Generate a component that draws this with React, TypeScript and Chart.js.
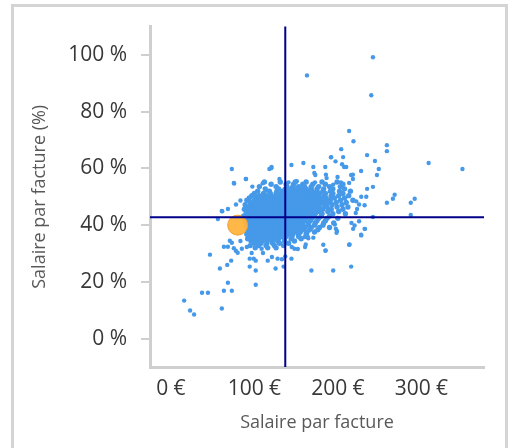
import { useEffect, useRef } from 'react';
import { Chart, registerables } from 'chart.js';

Chart.register(...registerables);

// Axis ticks
const xTicks = [0, 100, 200, 300];
const yTicks = [0, 20, 40, 60, 80, 100];

// Averages (reference lines)
const meanSalary = 137;
const meanShare = 42.8;

// Highlighted entity
const ownSalary = 80;
const ownShare = 40;

// Dense core of the cloud: one row per share level, salaries in each row
const coreRowY = [
  55.2, 54.4, 53.6, 52.8, 52.0, 51.2, 50.4, 49.6, 48.8, 48.0, 47.2, 46.4, 45.6, 44.8, 44.0,
  43.2, 42.4, 41.6, 40.8, 40.0, 39.2, 38.4, 37.6, 36.8, 36.0, 35.2, 34.4, 33.6, 32.8, 32.0,
];
const coreRowX: number[][] = [
  [112, 131, 149, 162, 181, 199],
  [120, 138, 147, 158, 170, 185, 206],
  [106, 126, 139, 146, 153, 160, 168, 177, 190, 203],
  [113, 129, 137, 144, 150, 156, 162, 168, 175, 183, 194, 208],
  [104, 118, 127, 134, 140, 146, 151, 157, 163, 169, 175, 182, 191, 202, 215],
  [100, 111, 119, 126, 132, 138, 143, 149, 154, 160, 166, 172, 178, 185, 194, 206],
  [97, 106, 114, 120, 126, 132, 137, 143, 148, 153, 159, 165, 171, 177, 184, 192, 201, 213],
  [94, 103, 110, 116, 122, 128, 134, 139, 145, 150, 156, 161, 167, 173, 179, 186, 196, 208],
  [91, 100, 107, 113, 119, 125, 131, 136, 142, 147, 152, 158, 164, 170, 176, 183, 191, 203, 218],
  [95, 103, 109, 115, 121, 127, 133, 139, 144, 149, 155, 161, 167, 173, 180, 188, 198, 210],
  [89, 98, 105, 111, 117, 123, 129, 135, 141, 146, 151, 157, 163, 169, 176, 184, 193, 205],
  [93, 100, 107, 113, 119, 125, 131, 137, 143, 148, 153, 159, 165, 171, 178, 187, 199, 212],
  [88, 96, 103, 109, 115, 121, 127, 133, 139, 144, 149, 155, 161, 167, 174, 182, 192, 206],
  [92, 99, 105, 111, 117, 123, 129, 135, 140, 145, 151, 157, 163, 170, 178, 188, 201],
  [90, 97, 103, 109, 115, 121, 127, 132, 138, 143, 148, 154, 160, 166, 173, 181, 194, 209],
  [87, 94, 100, 106, 112, 118, 124, 130, 135, 141, 146, 152, 158, 164, 171, 180, 190],
  [92, 98, 104, 110, 116, 122, 128, 133, 139, 144, 150, 156, 162, 169, 177, 187, 200],
  [89, 96, 102, 108, 114, 120, 126, 131, 137, 142, 148, 154, 160, 167, 175, 185],
  [93, 99, 105, 111, 117, 123, 129, 135, 140, 146, 152, 158, 165, 173, 183, 195],
  [91, 97, 103, 109, 115, 121, 127, 133, 138, 144, 150, 157, 164, 172, 182],
  [94, 100, 106, 112, 118, 124, 130, 136, 141, 147, 153, 160, 168, 178, 190],
  [92, 98, 104, 110, 116, 122, 128, 134, 139, 145, 151, 158, 166, 176],
  [95, 101, 107, 113, 119, 125, 131, 137, 142, 148, 155, 163, 172],
  [91, 98, 104, 110, 116, 122, 128, 134, 140, 146, 153, 162],
  [96, 102, 108, 114, 120, 126, 132, 138, 145, 153, 163],
  [92, 99, 105, 111, 117, 123, 129, 136, 144, 156],
  [96, 103, 109, 115, 121, 128, 136, 148],
  [100, 108, 115, 122, 130, 141],
  [95, 105, 114, 124, 135],
  [101, 116, 126],
];

// Scattered points around the core: [salary, share]
const scatterPoints: [number, number][] = [
  [242, 99.2], [163, 92.8], [240, 85.8], [213.5, 73.2], [218.7, 69.6], [258.7, 68.2], [258.7, 66.1],
  [204, 66.8], [235, 64.7], [192, 64], [206.3, 64], [244.4, 62.6], [308.7, 61.9], [349.2, 59.8],
  [205, 61.5], [207.5, 60.5], [210, 60.5], [249, 59.8], [227.8, 59.1], [246.8, 57.7], [215.9, 57.7],
  [218, 56.3], [213.5, 54.9], [242, 53.5], [235, 52.8], [268, 50.7], [265.9, 49.3], [258.7, 47.9],
  [292, 49.3], [287.3, 47.9], [287.3, 43.6], [242, 42.9], [232.5, 38.7], [227.8, 36.6], [213.5, 33.1],
  [215.9, 25.4], [194.4, 24], [168.3, 24], [185, 31], [182.5, 33.1], [158.7, 61.9], [144.4, 61.2],
  [170.6, 60.5], [184.9, 60.5], [173, 57.7], [120.6, 60.5], [118, 59.8], [73, 59.8], [89.7, 56.3],
  [75.4, 54.9], [130, 56.3], [56.3, 42.2], [61, 45], [46.8, 29.6], [58.7, 24.7], [68.3, 19.7],
  [63.5, 16.9], [73, 16.9], [37.3, 16.2], [44.4, 16.2], [15.9, 13.4], [23, 9.9], [27.8, 8.5],
  [61, 10.6], [101.6, 19], [101.6, 24], [94.4, 25.4], [125.4, 24.7], [135, 25.4], [144.4, 28.2],
  [137, 29], [127.8, 28.2], [116, 27.5], [94.4, 28.2], [99.2, 28.2], [101.6, 27.5], [67.5, 26],
  [72.2, 27.5], [63.5, 32.4], [68.3, 32.4], [70.6, 34.5], [73, 33.8], [77.8, 31], [80, 30.3],
  [85, 31.7], [108.7, 31.7], [90, 56.3], [75.8, 54.7], [61.5, 44.9], [68.3, 45.7], [78, 47.3],
  [83.3, 48.7], [97.6, 53.6], [110, 54.8], [96.8, 30.2], [110.3, 30.2], [121, 28.8], [133, 28],
  [185.4, 31.1], [161.5, 33.2], [160.7, 32.3], [144.8, 32.3], [148, 31.7], [152, 31.6], [198.4, 37.3],
  [191.7, 63.9], [197.2, 62.5], [171.8, 58.4], [185.7, 57.8], [218, 57.8], [186.5, 56.6],
  [199.6, 57], [140.9, 55.1], [150.8, 55.5], [172.6, 55.1], [194.4, 54.3], [203.6, 55.1],
  [120.2, 60.1], [228, 50], [234, 50], [232, 47], [222, 48.4], [225.4, 47.3], [223, 45.7],
  [221.4, 44.3], [225.4, 41.4], [216.3, 40.8], [220, 39.9], [218.3, 38.7], [232, 38.7], [228, 36.4],
  [214, 33.2], [196.4, 40.2], [197.6, 38.7], [199, 37.9], [83.3, 34.4], [91, 32.3], [75.4, 31.9],
  [155, 35.6], [160, 35.8], [164.6, 35.4], [170.6, 35.6], [114.8, 52.2], [102, 50],
];

const meanLines = {
  id: 'meanLines',
  afterDatasetsDraw(chart: any) {
    const { ctx, chartArea, scales } = chart;
    const x = scales.x.getPixelForValue(meanSalary);
    const y = scales.y.getPixelForValue(meanShare);
    ctx.save();
    ctx.strokeStyle = '#00008a';
    ctx.lineWidth = 2;
    ctx.beginPath();
    ctx.moveTo(x, chartArea.top);
    ctx.lineTo(x, chartArea.bottom);
    ctx.moveTo(chartArea.left, y);
    ctx.lineTo(chartArea.right, y);
    ctx.stroke();
    ctx.restore();
  },
};

export default function App() {
  const ref = useRef<HTMLCanvasElement>(null);

  useEffect(() => {
    const core: { x: number; y: number }[] = [];
    coreRowY.forEach((y, i) => coreRowX[i].forEach((x) => core.push({ x, y })));
    const scattered = scatterPoints.map(([x, y]) => ({ x, y }));

    const font = 'Open Sans';
    const blue = '#4599e8';
    const chart = new Chart(ref.current as HTMLCanvasElement, {
      type: 'scatter',
      data: {
        datasets: [
          {
            data: [{ x: ownSalary, y: ownShare }],
            backgroundColor: 'rgba(255,180,62,0.95)',
            borderColor: '#f0a035',
            borderWidth: 1,
            pointRadius: 10,
            order: 0,
          },
          {
            data: core,
            backgroundColor: blue,
            borderWidth: 0,
            pointRadius: 2.7,
            order: 1,
          },
          {
            data: scattered,
            backgroundColor: blue,
            borderWidth: 0,
            pointRadius: 2.2,
            order: 2,
          },
        ],
      },
      options: {
        responsive: false,
        animation: false,
        layout: { padding: { top: 26, right: 26, left: 0, bottom: 0 } },
        plugins: { legend: { display: false }, tooltip: { enabled: false } },
        scales: {
          x: {
            type: 'linear',
            min: -25,
            max: 375,
            afterFit: (s: any) => {
              s.height = 81;
            },
            afterBuildTicks: (s: any) => {
              s.ticks = xTicks.map((v) => ({ value: v }));
            },
            grid: { display: false, drawOnChartArea: false, drawTicks: false },
            border: { display: true, color: '#cfcfcf', width: 3 },
            ticks: {
              padding: 9,
              color: '#383838',
              font: { family: font, size: 21 },
              maxRotation: 0,
              callback: (v: any) => `${v} €`,
            },
            title: {
              display: true,
              text: 'Salaire par facture',
              color: '#595959',
              font: { family: font, size: 18 },
              padding: { top: 0, bottom: 14 },
            },
          },
          y: {
            type: 'linear',
            min: -10,
            max: 110,
            afterFit: (s: any) => {
              s.width = 150;
            },
            afterBuildTicks: (s: any) => {
              s.ticks = yTicks.map((v) => ({ value: v }));
            },
            grid: { display: true, drawOnChartArea: false, drawTicks: true, tickLength: 9, color: '#cfcfcf', lineWidth: 2 },
            border: { display: true, color: '#cfcfcf', width: 3 },
            ticks: {
              padding: 14,
              color: '#383838',
              font: { family: font, size: 21 },
              callback: (v: any) => `${v} %`,
            },
            title: {
              display: true,
              text: 'Salaire par facture (%)',
              color: '#595959',
              font: { family: font, size: 18 },
              padding: { top: 29, bottom: 0 },
            },
          },
        },
      },
      plugins: [meanLines],
    } as any);
    return () => chart.destroy();
  }, []);

  return (
    <div style={{ position: 'fixed', left: 0, top: 0, width: 510, height: 448, overflow: 'hidden', background: '#fff' }}>
      <div
        style={{
          position: 'absolute',
          left: 11,
          top: 4,
          width: 497,
          height: 480,
          boxSizing: 'border-box',
          border: '3px solid #d4d4d4',
        }}
      />
      <canvas ref={ref} width={510} height={448} style={{ position: 'absolute', left: 0, top: 0, width: 510, height: 448 }} />
    </div>
  );
}
